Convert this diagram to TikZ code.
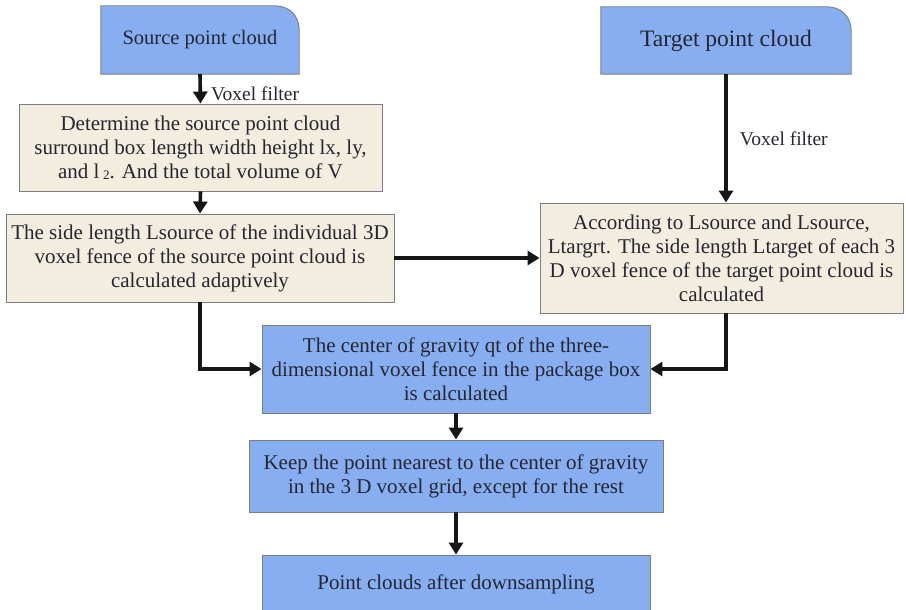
\documentclass[tikz,border=0pt]{standalone}
\usepackage{fontspec}
\setmainfont{Liberation Serif}
\usetikzlibrary{arrows.meta,backgrounds}

\definecolor{boxblue}{RGB}{134,174,240}
\definecolor{boxbeige}{RGB}{242,237,223}
\definecolor{edgegray}{RGB}{125,125,125}
\definecolor{inkdark}{RGB}{38,38,48}
\definecolor{arrowink}{RGB}{22,22,22}

\tikzset{
  base/.style={rectangle, inner sep=0pt, align=center, text=inkdark,
    font=\fontsize{21}{24}\selectfont},
  bluebox/.style={base, draw=edgegray, line width=0.9pt, fill=boxblue},
  beigebox/.style={base, draw=edgegray, line width=0.9pt, fill=boxbeige},
  startbox/.style={base},
  flow/.style={draw=arrowink, line width=3.6pt,
    -{Triangle[length=12pt,width=14pt]}},
  flowlabel/.style={text=inkdark, font=\fontsize{19.5}{22}\selectfont, inner sep=0pt},
}

\begin{document}
\begin{tikzpicture}[x=1pt,y=-1pt]
  \useasboundingbox (0,0) rectangle (906,610);
  \clip (0,0) rectangle (906,610);

  % start boxes (top-right corner rounded, drawn behind the text)
  \node[startbox, minimum width=198pt, minimum height=68pt,
        font=\fontsize{20.5}{24}\selectfont] (src) at (200,40) {Source point cloud};
  \node[startbox, minimum width=250pt, minimum height=67pt,
        font=\fontsize{23.5}{26}\selectfont] (tgt) at (726,40.5) {Target point cloud};
  \begin{scope}[on background layer]
    \foreach \n in {src,tgt}{
      \draw[draw=edgegray, line width=0.9pt, fill=boxblue]
        (\n.south west) -- (\n.north west) -- ([xshift=-24pt]\n.north east)
        .. controls ([xshift=-10pt]\n.north east) and ([yshift=-10pt]\n.north east)
        .. ([yshift=-24pt]\n.north east) -- (\n.south east) -- cycle;
    }
  \end{scope}

  % process boxes
  \node[beigebox, minimum width=363pt, minimum height=87pt] (bound) at (200.5,147.5)
    {Determine the source point cloud\\
     surround box length width height lx, ly,\\
     and l\,\raisebox{-1.5pt}{\fontsize{13}{13}\selectfont 2}. And the total volume of V};
  \node[beigebox, minimum width=388pt, minimum height=88pt] (lsrc) at (200,258)
    {The side length Lsource of the individual 3D\\
     voxel fence of the source point cloud is\\
     calculated adaptively};
  \node[beigebox, minimum width=363pt, minimum height=110pt] (ltgt) at (721.5,258)
    {According to Lsource and Lsource,\\
     Ltargrt. The side length Ltarget of each 3\\
     D voxel fence of the target point cloud is\\
     calculated};
  \node[bluebox, minimum width=388pt, minimum height=88pt] (grav) at (456,369)
    {The center of gravity qt of the three-\\
     dimensional voxel fence in the package box\\
     is calculated};
  \node[bluebox, minimum width=414pt, minimum height=72pt] (keep) at (456,476)
    {Keep the point nearest to the center of gravity\\
     in the 3 D voxel grid, except for the rest};
  \node[bluebox, minimum width=388pt, minimum height=58pt] (out) at (456,584)
    {Point clouds after downsampling};

  % connectors
  \draw[flow] (src.south) -- (bound.north)
    node[flowlabel, pos=0.68, anchor=west, xshift=9pt] {Voxel filter};
  \draw[flow] (bound.south) -- (lsrc.north);
  \draw[flow] (lsrc.east) -- (ltgt.west);
  \draw[flow] (tgt.south) -- (tgt.south |- ltgt.north)
    node[flowlabel, midway, anchor=west, xshift=12pt, yshift=0pt] {Voxel filter};
  \draw[flow] (lsrc.south) |- (grav.west);
  \draw[flow] (tgt.south |- ltgt.south) |- (grav.east);
  \draw[flow] (grav.south) -- (keep.north);
  \draw[flow] (keep.south) -- (out.north);
\end{tikzpicture}
\end{document}
